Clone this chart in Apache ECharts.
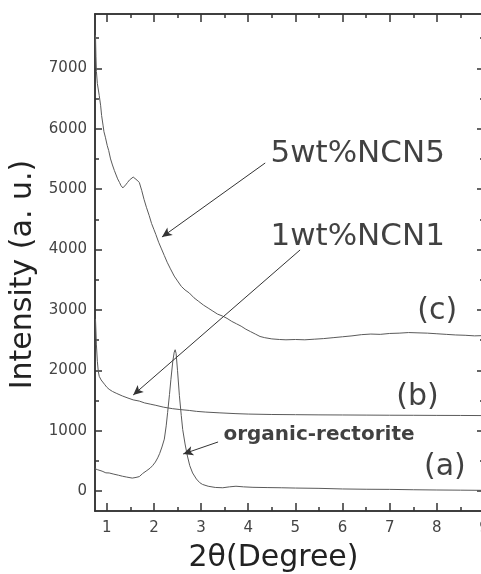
<!DOCTYPE html>
<html>
<head>
<meta charset="utf-8">
<script src="https://cdn.jsdelivr.net/npm/echarts@6/dist/echarts.min.js"></script>
<style>
html, body { margin: 0; padding: 0; background: #fff; }
#xrd { width: 481px; height: 574px; }
</style>
</head>
<body>
<div id="xrd"></div>
<script>
// tick values
const xMajor = [1, 2, 3, 4, 5, 6, 7, 8, 9]
const xMinor = [1.5, 2.5, 3.5, 4.5, 5.5, 6.5, 7.5, 8.5]
const yMajor = [0, 1000, 2000, 3000, 4000, 5000, 6000, 7000]
const yMinor = [500, 1500, 2500, 3500, 4500, 5500, 6500, 7500]

// (a) organic-rectorite  [2theta, intensity]
const curveA = [
  [0.75, 370], [0.80, 355], [0.90, 330], [0.98, 302], [1.05, 300], [1.15, 280],
  [1.25, 262], [1.33, 246], [1.42, 232], [1.54, 215], [1.62, 226], [1.69, 240],
  [1.76, 290], [1.85, 340], [1.92, 380], [1.97, 420], [2.03, 480], [2.08, 550],
  [2.12, 620], [2.17, 730], [2.22, 860], [2.26, 1080], [2.29, 1300], [2.33, 1600],
  [2.36, 1850], [2.40, 2150], [2.43, 2300], [2.45, 2340], [2.47, 2280], [2.50, 2000],
  [2.54, 1580], [2.58, 1250], [2.61, 1020], [2.66, 780], [2.71, 580], [2.76, 420],
  [2.82, 300], [2.90, 200], [2.97, 140], [3.03, 110], [3.15, 80], [3.30, 60],
  [3.46, 55], [3.60, 70], [3.74, 80], [3.90, 70], [4.1, 62], [4.4, 58], [4.7, 55],
  [5.0, 50], [5.5, 45], [6.0, 35], [6.5, 30], [7.0, 28], [7.5, 22], [8.0, 18],
  [8.5, 15], [9.0, 12]
]

// (b) 1wt%NCN1
const curveB = [
  [0.76, 2850], [0.77, 2650], [0.78, 2420], [0.80, 2150], [0.82, 1980], [0.84, 1900],
  [0.88, 1840], [0.91, 1810], [0.96, 1760], [1.00, 1720], [1.05, 1685], [1.12, 1650],
  [1.20, 1620], [1.33, 1575], [1.45, 1540], [1.56, 1510], [1.69, 1490], [1.80, 1460],
  [1.92, 1440], [2.04, 1420], [2.20, 1390], [2.39, 1365], [2.55, 1350], [2.75, 1335],
  [2.90, 1320], [3.10, 1308], [3.40, 1295], [3.74, 1282], [4.0, 1275], [4.5, 1268],
  [5.0, 1265], [5.5, 1262], [6.0, 1260], [6.5, 1258], [7.0, 1256], [7.5, 1255],
  [8.0, 1253], [8.5, 1252], [9.0, 1250]
]

// (c) 5wt%NCN5
const curveC = [
  [0.76, 7550], [0.77, 7200], [0.78, 6950], [0.80, 6750], [0.84, 6550], [0.87, 6380],
  [0.89, 6220], [0.92, 6060], [0.94, 5950], [0.97, 5860], [1.01, 5720], [1.04, 5640],
  [1.08, 5500], [1.12, 5400], [1.16, 5310], [1.19, 5250], [1.23, 5170], [1.27, 5110],
  [1.30, 5060], [1.34, 5020], [1.37, 5030], [1.40, 5070], [1.44, 5110], [1.48, 5150],
  [1.52, 5170], [1.56, 5200], [1.60, 5180], [1.64, 5150], [1.69, 5110], [1.74, 4980],
  [1.79, 4830], [1.84, 4700], [1.90, 4560], [1.95, 4430], [2.00, 4330], [2.04, 4250],
  [2.10, 4120], [2.16, 4010], [2.22, 3900], [2.28, 3790], [2.35, 3680], [2.43, 3560],
  [2.50, 3480], [2.58, 3390], [2.66, 3330], [2.75, 3280], [2.85, 3200], [2.95, 3140],
  [3.05, 3080], [3.15, 3030], [3.25, 2980], [3.35, 2930], [3.45, 2900], [3.55, 2860],
  [3.65, 2810], [3.75, 2770], [3.85, 2730], [3.95, 2680], [4.05, 2640], [4.15, 2600],
  [4.25, 2560], [4.35, 2540], [4.5, 2520], [4.66, 2510], [4.8, 2505], [5.0, 2510],
  [5.2, 2505], [5.4, 2515], [5.6, 2525], [5.8, 2540], [6.0, 2555], [6.2, 2570],
  [6.4, 2590], [6.6, 2600], [6.8, 2595], [7.0, 2610], [7.2, 2615], [7.4, 2625],
  [7.6, 2620], [7.8, 2615], [8.0, 2605], [8.2, 2595], [8.4, 2585], [8.6, 2580],
  [8.8, 2570], [9.0, 2575]
]

// annotation texts (data coords)
const notes = [
  [6.32, 5590, '5wt%NCN5'],
  [6.32, 4216, '1wt%NCN1'],
  [8.01, 2974, '(c)'],
  [7.59, 1550, '(b)'],
  [8.17, 391, '(a)'],
  [5.50, 929, 'organic-rectorite']
]
// arrows: from text to curve
const arrows = [
  [[4.36, 5433], [2.17, 4207]],
  [[5.10, 3993], [1.56, 1591]],
  [[3.36, 813], [2.62, 614]]
]

const X_MIN = 0.75
const X_MAX = 9
const Y_MIN = -330
const Y_MAX = 7900

const ink = '#333'
const font = 'DejaVu Sans'

function axis (pos, min, max, ticks, len, labels) {
  return {
    type: 'value',
    position: pos,
    min: min,
    max: max,
    axisLine: { show: true, onZero: false, lineStyle: { color: ink, width: 1.5 } },
    axisTick: { show: true, inside: true, length: len, customValues: ticks, lineStyle: { color: ink, width: 1.5 } },
    axisLabel: {
      show: labels,
      customValues: ticks,
      formatter: v => String(v),
      color: '#444',
      fontFamily: font,
      fontSize: 15,
      margin: pos === 'bottom' ? 10 : 8
    },
    splitLine: { show: false }
  }
}

const xMain = axis('bottom', X_MIN, X_MAX, xMajor, 8, true)
xMain.name = '2θ(Degree)'
xMain.nameLocation = 'middle'
xMain.nameGap = 32
xMain.nameTextStyle = { fontFamily: font, fontSize: 30, color: '#222', padding: [0, 32, 0, 0] }

const yMain = axis('left', Y_MIN, Y_MAX, yMajor, 7, true)
yMain.name = 'Intensity (a. u.)'
yMain.nameLocation = 'middle'
yMain.nameGap = 47
yMain.nameTextStyle = { fontFamily: font, fontSize: 30, color: '#222', padding: [0, 24, 0, 0] }

function curve (data) {
  return {
    type: 'line',
    data: data,
    showSymbol: false,
    symbol: 'none',
    lineStyle: { color: '#5a5a5a', width: 1 },
    silent: true
  }
}

const noteStyle = { fontFamily: font, fontSize: 31, color: '#111' }

const option = {
  animation: false,
  backgroundColor: '#fff',
  grid: { left: 95, top: 14, right: -3, bottom: 63, containLabel: false, outerBoundsMode: 'none' },
  xAxis: [
    xMain,
    axis('bottom', X_MIN, X_MAX, xMinor, 4, false),
    axis('top', X_MIN, X_MAX, xMajor, 8, false),
    axis('top', X_MIN, X_MAX, xMinor, 4, false)
  ],
  yAxis: [
    yMain,
    axis('left', Y_MIN, Y_MAX, yMinor, 4, false),
    axis('right', Y_MIN, Y_MAX, yMajor, 7, false),
    axis('right', Y_MIN, Y_MAX, yMinor, 4, false)
  ],
  series: [
    curve(curveA),
    curve(curveB),
    curve(curveC),
    {
      type: 'scatter',
      silent: true,
      symbolSize: 0,
      data: notes.map(n => ({
        value: [n[0], n[1]],
        label: n[2] === 'organic-rectorite'
          ? { fontWeight: 'bold', fontSize: 20 }
          : (n[2].length === 3 ? { fontSize: 30 } : {})
      })),
      label: {
        show: true,
        position: 'inside',
        formatter: p => notes[p.dataIndex][2],
        ...noteStyle
      },
      markLine: {
        silent: true,
        symbol: ['none', 'arrow'],
        symbolSize: [7, 10],
        label: { show: false },
        lineStyle: { color: '#333', width: 1, type: 'solid' },
        data: arrows.map(a => [{ coord: a[0] }, { coord: a[1] }])
      }
    }
  ]
}

const chart = echarts.init(document.getElementById('xrd'), null, { renderer: 'canvas' })
chart.setOption(option)
</script>
</body>
</html>
